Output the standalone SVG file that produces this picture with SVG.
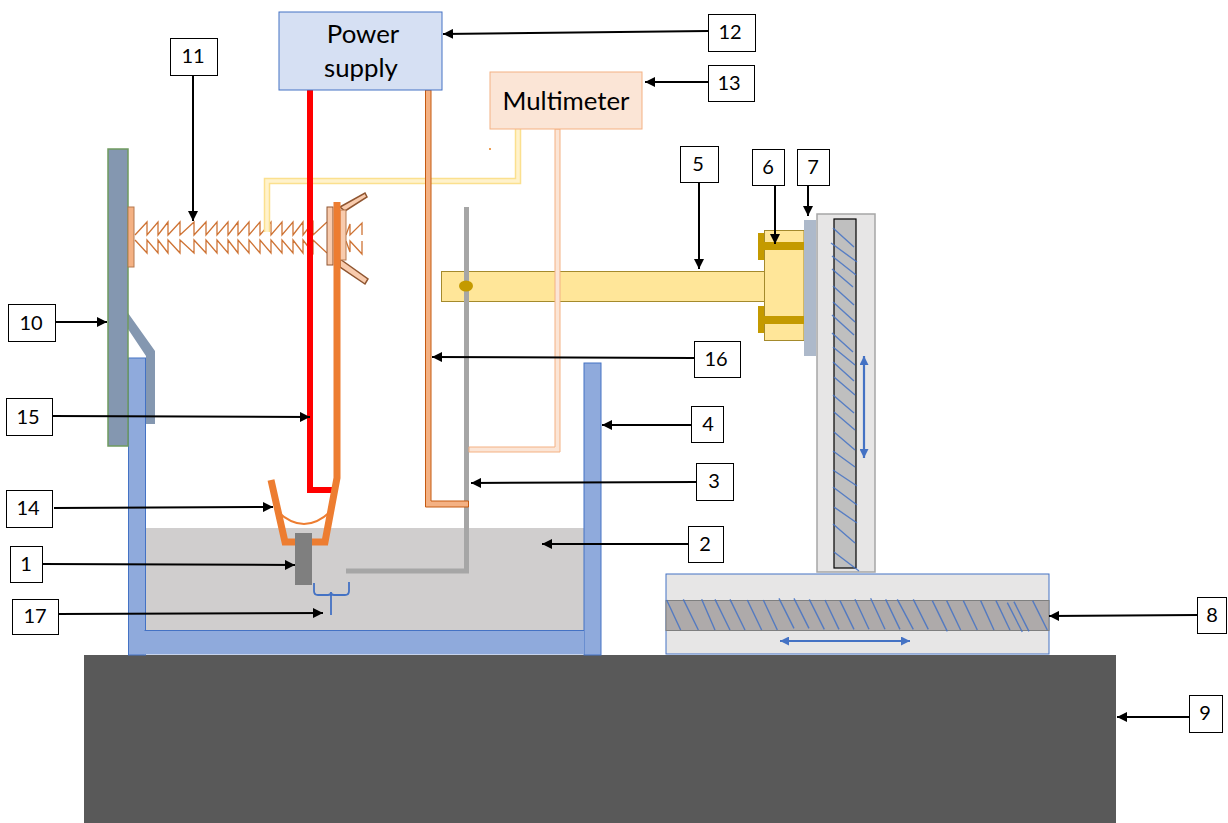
<svg xmlns="http://www.w3.org/2000/svg" width="1228" height="823" viewBox="0 0 1228 823">
<defs>
<marker id="ah" markerUnits="userSpaceOnUse" markerWidth="11" markerHeight="10" refX="10" refY="5" orient="auto"><path d="M0 0L10 5L0 10Z" fill="#000"/></marker>
<marker id="bh" markerUnits="userSpaceOnUse" markerWidth="10" markerHeight="9" refX="9" refY="4.5" orient="auto-start-reverse"><path d="M0 0L9 4.5L0 9Z" fill="#4472c4"/></marker>
</defs>
<style>
.lb{fill:#fff;stroke:#000;stroke-width:1}
.t{font-family:Lato,"Liberation Sans",sans-serif;font-size:20px;fill:#000;text-anchor:middle}
.big{font-family:Lato,"Liberation Sans",sans-serif;font-size:25.800px;fill:#000;text-anchor:middle}
.ar{stroke:#000;stroke-width:2;fill:none;marker-end:url(#ah)}
.h{stroke:#4472c4;stroke-width:1.400;fill:none;opacity:.85}
.ba{stroke:#4472c4;stroke-width:2.200;fill:none;marker-start:url(#bh);marker-end:url(#bh)}
.blue{fill:#8faadc;stroke:#4472c4;stroke-width:1}
.sp{fill:none;stroke:#c55a11;stroke-width:1.300;opacity:.85}
</style>

<g id="base"><rect x="84" y="655" width="1032" height="168" fill="#595959"/></g>

<g id="tank">
<rect x="145" y="528" width="439" height="102" fill="#d0cece"/>
<rect class="blue" x="128.500" y="358" width="17" height="297"/>
<rect class="blue" x="584" y="363" width="17" height="292"/>
<rect x="144.500" y="630" width="439.500" height="24.500" fill="#8faadc"/>
<line x1="144.500" y1="630.500" x2="584" y2="630.500" stroke="#4472c4" stroke-width="1"/>
</g>

<g id="column">
<polygon points="128,313 155,351 155,424 146,424 146,356 128,329" fill="#8497b0"/>
<rect x="108" y="149" width="20" height="297" fill="#8497b0" stroke="#6f9a5f" stroke-width="1.500"/>
</g>

<g id="spring">
<path class="sp" d="M135 235L147 222V235L158 222V235L168 222V235L180 222V235L194 222V235L206 222V235L217 222V235L228 222V235L238 222V235L249 222V235L260 222V235L271 222V235L282 222V235L293 222V235L303 222V235L313 222V235L327 222"/>
<path class="sp" d="M135 240L147 253V240L158 253V240L168 253V240L180 253V240L194 253V240L206 253V240L217 253V240L228 253V240L238 253V240L249 253V240L260 253V240L271 253V240L282 253V240L293 253V240L303 253V240L313 253V240L327 253"/>
<path class="sp" d="M346 235L350 224V235L362 223V235M346 241L350 252V241L362 254V241"/>
<rect x="128" y="207" width="6" height="60" fill="#f4b183" stroke="#b5784f" stroke-width="1"/>
<polygon points="340,207 365,193 367,197 345,211" fill="#f8cbad" stroke="#8f5530" stroke-width="1.500"/>
<polygon points="340,259 368,279 365,284 340,267" fill="#f8cbad" stroke="#8f5530" stroke-width="1.500"/>
<rect x="340" y="210" width="6" height="50" fill="#f8cbad" stroke="#b5784f" stroke-width="1"/>
<rect x="327" y="207" width="6" height="58" fill="#f8cbad" stroke="#8f5530" stroke-width="1"/>
</g>

<g id="slide-vertical">
<rect x="817" y="214" width="58" height="358" fill="#e7e6e6" stroke="#a6a6a6" stroke-width="1.500"/>
<rect x="834" y="219" width="22" height="349" fill="#bfbfbf" stroke="#000" stroke-width="1.200"/>
<path class="h" d="M833 228L854 247M831 243L857 262M832 256L856 275M832 269L853 287M833 286L854 305M833 302L855 322M832 315L854 335M832 333L853 352M833 347L855 365M833 362L854 381M834 377L855 395M833 395L854 413M834 412L855 430M834 432L855 450M833 451L855 467M833 470L857 486M833 487L857 505M834 507L857 523M833 524L855 543M834 552L859 571"/>
<line class="ba" x1="864" y1="356" x2="864" y2="458"/>
</g>

<g id="slide-horizontal">
<rect x="666" y="574" width="383" height="80" fill="#e7e6e6" stroke="#4472c4" stroke-width="1"/>
<rect x="666" y="600.500" width="383" height="30" fill="#aeaaaa" stroke="#7f7f7f" stroke-width="1"/>
<g transform="translate(660 540) scale(.3333)"><path d="M20 180L62 270M70 178L115 270M125 178L165 270M165 178L210 270M210 178L255 270M262 180L305 270M310 180L352 270M357 175L402 265M402 175L447 265M448 178L493 268M495 180L537 268M540 182L582 268M585 178L627 268M632 175L675 268M677 178L720 268M712 178L760 268M760 178L805 268M817 182L862 274M860 182L902 270M910 182L952 270M962 182L1002 270M1008 182L1050 270M1042 188L1087 276M1062 185L1107 274M1118 182L1162 270" stroke="#4472c4" stroke-width="4.200" fill="none" opacity=".85"/></g>
<line class="ba" x1="780" y1="641" x2="910" y2="641"/>
</g>

<g id="arm">
<rect x="441.500" y="271.500" width="323" height="30" fill="#ffe699" stroke="#a48a2c" stroke-width="1"/>
<rect x="764.500" y="230.500" width="39.500" height="110" fill="#ffe699" stroke="#a48a2c" stroke-width="1"/>
<path d="M758 233H764V260H758ZM764 242H804V250H764ZM758 306H764V333H758ZM764 316H804V324H764Z" fill="#c49a00"/>
<rect x="804" y="220" width="12" height="136" fill="#adb9ca"/>
</g>

<g id="wires">
<path d="M267 232V181H518V129" fill="none" stroke="#fbe08e" stroke-width="6.500"/>
<path d="M267 232V181H518V129" fill="none" stroke="#fff2cc" stroke-width="3.500"/>
<path d="M310 90V490H332" fill="none" stroke="#f00" stroke-width="6"/>
<path d="M271 480L285 542H325L337 478V202" fill="none" stroke="#ed7d31" stroke-width="7"/>
<path d="M278 512Q304 536 330 512" fill="none" stroke="#ed7d31" stroke-width="2"/>
<rect x="295" y="533" width="17" height="52" fill="#7f7f7f"/>
<path d="M466.500 207V571H346" fill="none" stroke="#a6a6a6" stroke-width="5"/>
<path d="M425.500 90H431V501H468.500V507H425.500Z" fill="#f4b183" stroke="#c55a11" stroke-width="1"/>
<path d="M555 129V447H469V452H560V129Z" fill="#fbe5d6" stroke="#f4b183" stroke-width="1"/>
<ellipse cx="466" cy="286" rx="7" ry="5.500" fill="#c49a00"/>
<rect x="489" y="148" width="2" height="2" fill="#ed9d51"/>
<path d="M314 583V591Q314 595 318 595H328Q331 595 331 592Q331 595 334 595H345Q349 595 349 591V582M331 595V615" fill="none" stroke="#4472c4" stroke-width="1.800"/>
</g>

<g id="power-supply">
<rect x="279" y="12" width="163" height="78" fill="#d6e0f3" stroke="#4472c4" stroke-width="1"/>
<text class="big" x="363" y="43">Power</text>
<text class="big" x="361" y="77">supply</text>
</g>
<g id="multimeter">
<rect x="490" y="72" width="152" height="57" fill="#fbe5d6" stroke="#f4b183" stroke-width="1"/>
<text class="big" x="566" y="110">Multimeter</text>
</g>

<g id="connectors">
<line class="ar" x1="42" y1="564" x2="295" y2="565"/>
<line class="ar" x1="688" y1="544" x2="542" y2="544"/>
<line class="ar" x1="696" y1="482" x2="471" y2="483"/>
<line class="ar" x1="691" y1="425" x2="602" y2="425"/>
<line class="ar" x1="699" y1="182" x2="699" y2="269"/>
<line class="ar" x1="775" y1="185" x2="775" y2="244"/>
<line class="ar" x1="808" y1="185" x2="808" y2="216"/>
<line class="ar" x1="1197" y1="615" x2="1049" y2="616"/>
<line class="ar" x1="1189" y1="717" x2="1117" y2="717"/>
<line class="ar" x1="55" y1="322" x2="107" y2="322"/>
<line class="ar" x1="193" y1="75" x2="193" y2="221"/>
<line class="ar" x1="708" y1="31" x2="443" y2="34"/>
<line class="ar" x1="708" y1="82" x2="645" y2="82"/>
<line class="ar" x1="54" y1="508" x2="273" y2="507"/>
<line class="ar" x1="52" y1="416" x2="310" y2="417"/>
<line class="ar" x1="694" y1="358" x2="432" y2="357"/>
<line class="ar" x1="58" y1="614" x2="323" y2="613"/>
</g>

<g id="label-1"><rect class="lb" x="10.500" y="546.500" width="32" height="36"/><text class="t" x="26" y="571">1</text></g>
<g id="label-2"><rect class="lb" x="688.500" y="526.500" width="35" height="36"/><text class="t" x="705" y="551">2</text></g>
<g id="label-3"><rect class="lb" x="696.500" y="463.500" width="37" height="37"/><text class="t" x="714" y="488">3</text></g>
<g id="label-4"><rect class="lb" x="691.500" y="406.500" width="32" height="36"/><text class="t" x="708" y="431">4</text></g>
<g id="label-5"><rect class="lb" x="680.500" y="146.500" width="38" height="36"/><text class="t" x="698" y="171">5</text></g>
<g id="label-6"><rect class="lb" x="752.500" y="149.500" width="32" height="36"/><text class="t" x="768" y="174">6</text></g>
<g id="label-7"><rect class="lb" x="797.500" y="149.500" width="32" height="36"/><text class="t" x="813" y="174">7</text></g>
<g id="label-8"><rect class="lb" x="1197.500" y="597.500" width="29" height="36"/><text class="t" x="1212" y="622">8</text></g>
<g id="label-9"><rect class="lb" x="1189.500" y="695.500" width="33" height="37"/><text class="t" x="1205" y="720">9</text></g>
<g id="label-10"><rect class="lb" x="8.500" y="304.500" width="47" height="37"/><text class="t" x="31" y="330">10</text></g>
<g id="label-11"><rect class="lb" x="170.500" y="38.500" width="47" height="37"/><text class="t" x="193" y="63">11</text></g>
<g id="label-12"><rect class="lb" x="708.500" y="14.500" width="47" height="37"/><text class="t" x="730" y="39">12</text></g>
<g id="label-13"><rect class="lb" x="708.500" y="65.500" width="46" height="36"/><text class="t" x="729" y="90">13</text></g>
<g id="label-14"><rect class="lb" x="6.500" y="490.500" width="46" height="37"/><text class="t" x="28" y="515">14</text></g>
<g id="label-15"><rect class="lb" x="6.500" y="398.500" width="46" height="37"/><text class="t" x="28" y="424">15</text></g>
<g id="label-16"><rect class="lb" x="694.500" y="341.500" width="46" height="36"/><text class="t" x="716" y="366">16</text></g>
<g id="label-17"><rect class="lb" x="12.500" y="599.500" width="46" height="35"/><text class="t" x="35" y="623">17</text></g>
</svg>
